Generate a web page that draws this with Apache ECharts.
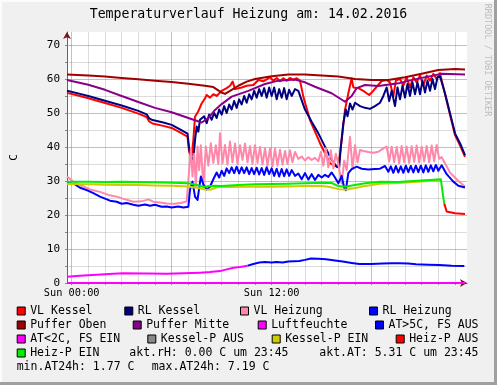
<!DOCTYPE html>
<html><head><meta charset="utf-8">
<script src="https://cdn.jsdelivr.net/npm/echarts@6/dist/echarts.min.js"></script>
<style>html,body{margin:0;padding:0;background:#f0f0f0}#c{width:497px;height:385px}</style>
</head><body><div id="c"></div><script>
// ---------- text / ticks ----------
const TITLE = 'Temperaturverlauf Heizung am: 14.02.2016';
const Y_NAME = 'C';
const X_MIN = -0.28, X_MAX = 23.72;   // hours relative to Sun 00:00
const Y_MIN = 0, Y_MAX = 73.8;
const xTickHours = [0,1,2,3,4,5,6,7,8,9,10,11,12,13,14,15,16,17,18,19,20,21,22,23];
const xMajorHours = [0,6,12,18];
const xLabelHours = [0,12];
const xLabelText = {0:'Sun 00:00', 12:'Sun 12:00'};
const yTicks = [0,5,10,15,20,25,30,35,40,45,50,55,60,65,70];
const yLabels = [0,10,20,30,40,50,60,70];
const infoTexts = ['akt.rH: 0.00 C um 23:45','akt.AT: 5.31 C um 23:45','min.AT24h: 1.77 C','max.AT24h: 7.19 C'];
const watermark = 'RRDTOOL / TOBI OETIKER';

// ---------- series names / colours ----------
const names = ['VL Kessel','RL Kessel','VL Heizung','RL Heizung','Puffer Oben','Puffer Mitte','Luftfeuchte',
  'AT>5C, FS AUS','AT<2C, FS EIN','Kessel-P AUS','Kessel-P EIN','Heiz-P AUS','Heiz-P EIN'];
const colors = ['#ff0000','#000080','#ff88aa','#0000ff','#a00000','#880088','#ff00ff',
  '#0000ff','#ff00ff','#888888','#cccc00','#ff0000','#00ee00'];

// ---------- data: [hour, value] ----------
const vlKessel = [[-0.28,55.9],[0.5,55.0],[1,54.3],[2,52.9],[3,51.5],[4,49.8],[4.5,48.8],[4.65,47.5],[4.85,46.9],[5.5,46.2],[6,45.6],[6.5,44.3],[6.95,43.0],[7.05,38.5],[7.2,37.5],[7.3,42],[7.4,48.9],[7.6,50.5],[7.8,52.8],[8.0,54.3],[8.1,55.3],[8.3,54.5],[8.5,55.5],[8.7,55.0],[9.0,56.5],[9.3,57.3],[9.5,58.0],[9.66,59.2],[9.8,57.0],[9.9,56.8],[10.2,57.5],[10.5,58.0],[10.9,58.2],[11.2,59.7],[11.5,59.3],[11.7,59.9],[11.9,60.5],[12.1,59.5],[12.3,60.3],[12.5,59.3],[12.7,60.2],[12.9,59.5],[13.1,60.3],[13.3,59.7],[13.5,60.2],[13.7,59.5],[13.9,54.8],[14.3,47.9],[14.9,41.1],[15.5,35.2],[16.0,34.0],[16.2,42],[16.4,50.9],[16.6,55.8],[16.8,60.2],[16.9,57.5],[17.2,57.3],[17.5,56.5],[17.7,55.8],[17.85,55.3],[18.0,56],[18.3,57.7],[18.6,59.4],[18.9,59.7],[19.1,59],[19.3,54.8],[19.45,59.5],[19.7,60],[19.9,58],[20.1,60.5],[20.3,57.5],[20.5,60.5],[20.7,59],[20.9,61],[21.1,58],[21.3,61],[21.5,59.5],[21.7,61.5],[21.9,60],[22.1,61.7],[22.4,55.5],[22.7,49.5],[23.0,43.5],[23.3,40.5],[23.6,37.1]];
const rlKessel = [[-0.28,56.5],[0.5,55.6],[1,55.0],[2,53.6],[3,52.2],[4,50.6],[4.5,49.6],[4.65,48.4],[4.85,47.9],[5.5,47.2],[6,46.5],[6.5,45.2],[6.95,43.9],[7.05,39.5],[7.15,37.0],[7.3,36.2],[7.4,42],[7.5,46.0],[7.6,44.5],[7.7,48],[7.8,47.5],[7.95,49],[8.1,47],[8.25,49.5],[8.4,48],[8.55,50],[8.7,48.5],[8.85,51],[9.0,49.5],[9.15,52],[9.3,50],[9.45,52.5],[9.6,51],[9.75,53.5],[9.9,51.5],[10.05,54],[10.2,52.5],[10.35,55],[10.5,53],[10.65,55.5],[10.8,54],[10.95,56.5],[11.1,54.5],[11.25,57],[11.4,55],[11.55,57.3],[11.7,54.5],[11.85,57.5],[12.0,55],[12.15,57.5],[12.3,54],[12.45,57],[12.6,54.5],[12.75,57.3],[12.9,54],[13.05,56.8],[13.2,55],[13.4,57],[13.6,56.5],[14.0,51],[14.4,47.4],[14.8,44],[15.2,40.1],[15.6,36.2],[15.9,34.2],[16.05,34],[16.15,40],[16.3,47],[16.45,51],[16.55,49],[16.7,52.8],[16.85,51],[17.0,53],[17.3,52],[17.6,51.5],[17.9,51.2],[18.2,52],[18.5,53],[18.7,55],[18.9,57.5],[19.05,53.5],[19.2,56.5],[19.4,52],[19.55,57.5],[19.7,54],[19.85,58],[20.0,54.5],[20.15,58.5],[20.3,55],[20.45,59],[20.6,55.5],[20.75,59],[20.9,55.5],[21.05,59.5],[21.2,56],[21.35,59.5],[21.5,56.5],[21.65,60],[21.8,57],[21.95,60.5],[22.1,60.7],[22.4,55.8],[22.7,49.9],[23.0,44.0],[23.3,41.1],[23.6,37.6]];
const vlHeizung = [[-0.28,31.3],[0.1,29.8],[0.6,28.6],[1.1,27.5],[1.7,26.8],[2.2,25.9],[2.7,25.4],[3.2,24.6],[3.7,23.9],[4.2,24.0],[4.6,24.6],[4.9,23.9],[5.3,23.7],[5.7,23.4],[6.2,23.3],[6.6,23.6],[6.9,24.0],[7.0,24.5],[7.1,36.2],[7.15,39.6],[7.25,31.3],[7.35,38],[7.45,28.3],[7.55,40.1],[7.65,33.2],[7.75,40.5],[7.9,28.3],[8.05,40.1],[8.2,34.5],[8.35,41.1],[8.5,35.3],[8.65,40.5],[8.8,35.0],[8.9,44.0],[9.05,35.2],[9.2,40.6],[9.35,34.8],[9.5,41.6],[9.65,35.5],[9.8,41.0],[9.95,35.0],[10.1,40.5],[10.25,36.2],[10.4,41.0],[10.55,35.5],[10.7,40.2],[10.85,35.0],[11.0,40.5],[11.15,35.3],[11.3,40.0],[11.45,34.8],[11.6,39.6],[11.75,34.5],[11.9,39.5],[12.05,34.3],[12.2,39.5],[12.35,34.5],[12.5,39.2],[12.65,34.8],[12.8,38.8],[12.95,35.0],[13.1,39.0],[13.25,35.5],[13.4,38.5],[13.6,36.5],[13.8,37.2],[14.0,36.0],[14.2,37.0],[14.4,36.2],[14.6,36.8],[14.8,35.8],[14.95,38.5],[15.1,34.5],[15.25,39.6],[15.4,34.0],[15.55,39.0],[15.7,33.7],[15.85,38.0],[16.0,35.0],[16.2,29.3],[16.35,36],[16.5,33.2],[16.7,43.0],[16.85,33.5],[17.0,40.5],[17.15,35.5],[17.3,39.1],[17.5,38.8],[17.8,38.5],[18.1,38.3],[18.4,38.6],[18.7,39.6],[18.9,40.1],[19.05,35.7],[19.2,40.1],[19.35,35.5],[19.5,40.0],[19.65,35.2],[19.8,40.3],[19.95,35.5],[20.1,40.1],[20.25,35.3],[20.4,40.2],[20.55,35.6],[20.7,40.4],[20.85,35.4],[21.0,40.1],[21.15,35.7],[21.3,40.3],[21.45,35.5],[21.6,40.4],[21.75,35.8],[21.9,40.6],[22.05,36.5],[22.2,37.0],[22.7,32.5],[23.2,30.0],[23.6,28.4]];
const rlHeizung = [[-0.28,29.5],[0.2,29.0],[0.5,28.0],[0.9,27.3],[1.3,26.4],[1.7,25.4],[2.0,24.8],[2.3,24.2],[2.7,23.9],[3.0,23.3],[3.3,23.5],[3.7,23.0],[4.0,22.7],[4.4,23.1],[4.7,22.7],[5.0,23.0],[5.4,22.4],[5.7,22.5],[6.0,22.2],[6.4,22.5],[6.7,22.2],[7.0,22.4],[7.1,27.4],[7.25,29.8],[7.4,25.4],[7.55,24.4],[7.75,31.3],[7.9,29.0],[8.1,27.5],[8.3,28.3],[8.5,30.5],[8.7,32.5],[8.85,31.0],[9.0,33.0],[9.15,31.5],[9.3,33.7],[9.45,32.3],[9.6,34.0],[9.75,32.3],[9.9,34.2],[10.05,32.2],[10.2,34.0],[10.35,32.3],[10.5,34.0],[10.65,32.0],[10.8,33.8],[10.95,32.0],[11.1,33.9],[11.25,31.9],[11.4,33.8],[11.55,31.8],[11.7,34.0],[11.85,32.0],[12.0,33.7],[12.15,31.5],[12.3,33.6],[12.45,31.3],[12.6,33.5],[12.75,31.4],[12.9,33.4],[13.05,31.5],[13.2,33.2],[13.4,31.5],[13.6,32.2],[13.8,30.5],[14.0,32.3],[14.2,30.4],[14.4,32.0],[14.6,30.3],[14.8,31.8],[15.0,31.0],[15.2,31.8],[15.4,31.2],[15.6,32.5],[15.8,31.0],[16.0,29.3],[16.2,31.5],[16.35,28.0],[16.45,27.3],[16.6,32.3],[16.8,33.5],[17.1,34.2],[17.4,33.6],[17.8,33.4],[18.2,33.5],[18.5,33.6],[18.8,34.4],[19.0,32.7],[19.15,34.3],[19.3,32.4],[19.45,34.4],[19.6,32.5],[19.75,34.3],[19.9,32.4],[20.05,34.5],[20.2,32.6],[20.35,34.4],[20.5,32.5],[20.65,34.5],[20.8,32.6],[20.95,34.5],[21.1,32.5],[21.25,34.6],[21.4,32.7],[21.55,34.6],[21.7,32.8],[21.85,34.7],[22.0,33.0],[22.2,34.6],[22.5,32.0],[22.9,29.8],[23.2,28.6],[23.6,28.1]];
const pufferOben = [[-0.28,61.3],[1,61.0],[2,60.7],[3,60.3],[4,59.9],[5,59.5],[6,59.1],[7,58.6],[8,58.0],[8.5,57.6],[9.0,56.0],[9.2,55.6],[9.6,56.8],[10,58.0],[10.5,59.2],[11,60.0],[12,60.8],[13,61.3],[14,61.3],[15,61.0],[16,60.7],[17,60.0],[18,59.7],[19,59.7],[20,60.5],[21,61.5],[22,62.6],[23,62.9],[23.6,62.8]];
const pufferMitte = [[-0.28,59.7],[1,58.3],[2,56.8],[3,55.0],[4,53.2],[5,51.5],[6,50.2],[7,48.5],[7.8,47.2],[8.2,48.5],[8.6,50.9],[9,52.6],[9.6,54.8],[10.6,56.5],[11.6,58.5],[12.4,59.5],[13.4,59.8],[14,59.0],[14.6,57.7],[15.6,55.8],[16.4,53.3],[16.8,55.0],[17.1,57.3],[17.6,58.2],[18.4,57.9],[19.6,58.7],[20.5,59.8],[21.6,60.9],[22.2,61.5],[23.6,61.3]];
const luftfeuchte = [[-0.28,0],[23.6,0]];
const atAbove5 = [[10.56,5.1],[10.9,5.6],[11.26,6.0],[11.6,6.2],[12.0,6.0],[12.3,6.2],[12.66,6.0],[13.0,6.3],[13.66,6.5],[14.0,6.8],[14.36,7.2],[14.8,7.1],[15.26,7.0],[15.8,6.6],[16.26,6.3],[16.8,5.9],[17.26,5.6],[18.0,5.6],[18.66,5.7],[19.2,5.8],[19.66,5.8],[20.2,5.7],[20.66,5.5],[21.4,5.4],[22.06,5.3],[22.8,5.1],[23.56,5.0]];
const atBelow2 = [[-0.28,1.85],[0.5,2.1],[1.5,2.4],[2.5,2.7],[3.1,2.85],[4.5,2.8],[5.7,2.75],[6.7,2.9],[7.7,3.05],[8.3,3.2],[8.9,3.5],[9.3,4.0],[9.7,4.5],[10.1,4.7],[10.56,5.1]];
const kesselPAus = [];
const kesselPEin = [[-0.28,29.1],[1,29.0],[2,28.9],[3,28.8],[4,28.8],[5,28.7],[6,28.6],[7,28.4],[7.5,28.0],[8.0,27.5],[8.3,27.4],[8.8,28.2],[9.5,28.2],[10.5,28.3],[12,28.3],[13,28.4],[14,28.5],[15,28.5],[15.5,28.2],[16.0,27.6],[16.5,27.5],[17,27.9],[17.6,28.5],[18.5,29.2],[19.6,29.4],[20.5,29.7],[21.5,30.0],[22.2,30.1]];
const heizPAus = [[22.35,23.4],[22.5,21.0],[23,20.5],[23.6,20.3]];
const heizPEin = [[-0.28,29.8],[1,29.8],[2,29.7],[3,29.8],[4,29.7],[5,29.6],[6,29.5],[7,29.3],[7.5,28.8],[7.9,28.3],[8.5,28.6],[9,28.5],[10,28.8],[11,29.0],[12,29.1],[13,29.2],[14,29.3],[15,29.5],[15.6,29.4],[16.0,28.5],[16.4,28.3],[17,28.8],[17.6,29.3],[18.5,29.8],[19.6,29.7],[20.5,30.0],[21.5,30.3],[22.15,30.5],[22.25,30.4],[22.35,23.4]];
const seriesData = [vlKessel, rlKessel, vlHeizung, rlHeizung, pufferOben, pufferMitte, luftfeuchte,
  atAbove5, atBelow2, kesselPAus, kesselPEin, heizPAus, heizPEin];

// ---------- layout ----------
const FONT = "'DejaVu Sans Mono', monospace";
const legendLayout = [
  ['VL Kessel',16.7,311],['RL Kessel',124.3,311],['VL Heizung',240,311],['RL Heizung',369,311],
  ['Puffer Oben',16.7,325],['Puffer Mitte',132.7,325],['Luftfeuchte',257.7,325],['AT>5C, FS AUS',375,325],
  ['AT<2C, FS EIN',16.7,339],['Kessel-P AUS',147.3,339],['Kessel-P EIN',271.7,339],['Heiz-P AUS',395.7,339],
  ['Heiz-P EIN',16.7,353]
];
const infoLayout = [[129.3,353],[319.3,353],[16.7,367],[151.7,367]];
const MAJOR = 'rgba(210,40,40,0.38)', MINOR = 'rgba(140,140,140,0.3)';

const chart = echarts.init(document.getElementById('c'), null, {renderer:'canvas'});
const option = {
  animation:false,
  backgroundColor:'#f0f0f0',
  title:{text:TITLE, left:'center', top:8, padding:0,
    textStyle:{fontFamily:FONT, fontSize:13.2, fontWeight:'normal', color:'#000'}},
  grid:{left:67, right:30, top:32, bottom:102, show:true, backgroundColor:'#ffffff', borderWidth:0,
    containLabel:false, outerBoundsMode:'none'},
  xAxis:[{
    type:'value', min:X_MIN, max:X_MAX, position:'bottom',
    axisLine:{show:true, onZero:false, lineStyle:{color:'#666', width:1}},
    axisTick:{show:true, customValues:xTickHours, length:2, lineStyle:{color:'#888'}},
    axisLabel:{customValues:xLabelHours, formatter:v=>xLabelText[v]||'', fontFamily:FONT, fontSize:10.3, color:'#000', margin:5},
    splitLine:{show:true, lineStyle:{width:1, color:xTickHours.map(h=>xMajorHours.includes(h)?MAJOR:MINOR)}}
  },{
    type:'value', min:X_MIN, max:X_MAX, position:'bottom', offset:0,
    axisLine:{show:true, onZero:false, symbol:['none','arrow'], symbolSize:[6,7], lineStyle:{color:'#7a1010', width:0}},
    axisTick:{show:false}, axisLabel:{show:false}, splitLine:{show:false}
  }],
  yAxis:[{
    type:'value', min:Y_MIN, max:Y_MAX, position:'left',
    name:Y_NAME, nameLocation:'middle', nameRotate:90, nameGap:47,
    nameTextStyle:{fontFamily:FONT, fontSize:11, color:'#000'},
    axisLine:{show:true, onZero:false, lineStyle:{color:'#666', width:1}},
    axisTick:{show:true, customValues:yTicks, length:2, lineStyle:{color:'#888'}},
    axisLabel:{customValues:yLabels, fontFamily:FONT, fontSize:11, color:'#000', margin:7},
    splitLine:{show:true, lineStyle:{width:1, color:yTicks.map(v=>v%10===0?MAJOR:MINOR)}}
  },{
    type:'value', min:Y_MIN, max:Y_MAX, position:'left', offset:0,
    axisLine:{show:true, onZero:false, symbol:['none','arrow'], symbolSize:[6,7], lineStyle:{color:'#7a1010', width:0}},
    axisTick:{show:false}, axisLabel:{show:false}, splitLine:{show:false}
  }],
  legend: legendLayout.map(([name,x,y]) => ({
    data:[name], left:x, top:y-7, padding:0, itemWidth:8, itemHeight:8, itemGap:0,
    icon:'rect', selectedMode:false,
    itemStyle:{borderColor:'#000', borderWidth:1},
    textStyle:{fontFamily:FONT, fontSize:11.5, color:'#000', lineHeight:14}
  })),
  graphic:[
    {type:'rect', silent:true, shape:{x:0,y:0,width:497,height:2}, style:{fill:'#fcfcfc'}},
    {type:'rect', silent:true, shape:{x:0,y:0,width:2,height:385}, style:{fill:'#fcfcfc'}},
    {type:'rect', silent:true, shape:{x:494,y:0,width:3,height:385}, style:{fill:'#a0a0a0'}},
    {type:'rect', silent:true, shape:{x:0,y:382,width:497,height:3}, style:{fill:'#a0a0a0'}},
    {type:'text', silent:true, x:487, y:60, rotation:-Math.PI/2,
      style:{text:watermark, align:'center', verticalAlign:'middle', fill:'#bdbdbd', font:"8.5px 'DejaVu Sans Mono'"}},
    ...infoTexts.map((t,i)=>({type:'text', silent:true, x:infoLayout[i][0], y:infoLayout[i][1],
      style:{text:t, align:'left', verticalAlign:'middle', fill:'#000', font:"11.5px 'DejaVu Sans Mono'"}}))
  ],
  series: names.map((n,i)=>({
    name:n, type:'line', data:seriesData[i], showSymbol:false, symbol:'none', color:colors[i],
    xAxisIndex:0, yAxisIndex:0, clip:true,
    lineStyle:{width:2, color:colors[i], join:'round'}, emphasis:{disabled:true}
  }))
};
chart.setOption(option);
</script></body></html>
